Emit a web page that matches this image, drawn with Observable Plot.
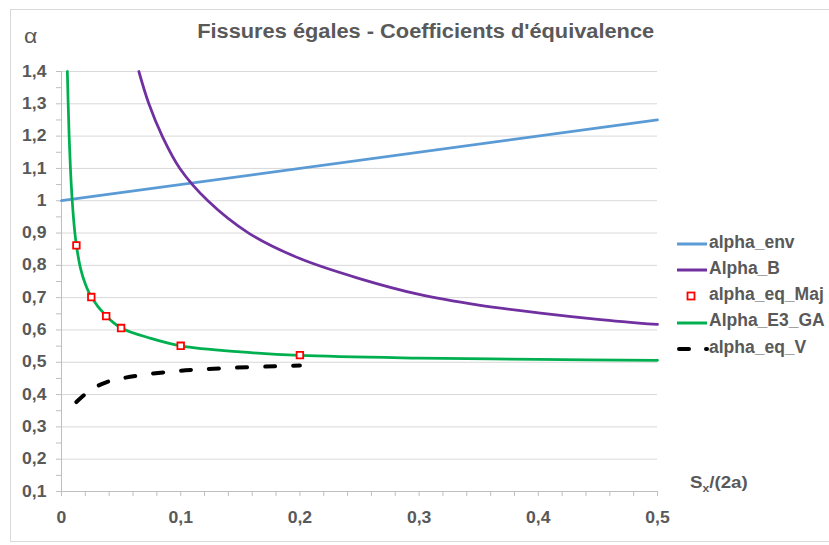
<!DOCTYPE html>
<html><head><meta charset="utf-8">
<script src="https://cdn.jsdelivr.net/npm/d3@7"></script>
<script src="https://cdn.jsdelivr.net/npm/@observablehq/plot@0.6"></script>
<style>
html,body{margin:0;padding:0;background:#fff;}
#wrap{position:relative;width:829px;height:545px;overflow:hidden;font-family:"Liberation Sans",Arial,sans-serif;background:#fff;}
#border{position:absolute;left:10px;top:9px;width:840px;height:533px;border:1px solid #d9d9d9;box-sizing:border-box;}
.t{position:absolute;white-space:nowrap;color:#595959;line-height:1;}
</style></head><body>
<div id="wrap"><div id="border"></div></div>
<script>
// ---- data ----
const seriesNames = ["alpha_env", "Alpha_B", "alpha_eq_Maj", "Alpha_E3_GA", "alpha_eq_V"];
const seriesColors = ["#5B9BD5", "#7030A0", "#FF0000", "#00B050", "#000000"];

const envX = [0, 0.5];
const envY = [1.0, 1.25];

const bX = [0.0649, 0.0733, 0.0845, 0.0993, 0.1228, 0.157, 0.2, 0.25, 0.3, 0.35, 0.4, 0.45, 0.5];
const bY = [1.40, 1.30, 1.20, 1.10, 1.00, 0.90, 0.821, 0.759, 0.710, 0.677, 0.653, 0.633, 0.617];

const majX = [0.0125, 0.025, 0.0375, 0.05, 0.1, 0.2];
const majY = [0.862, 0.702, 0.643, 0.606, 0.551, 0.522];

const gaX = [0.0049, 0.0056, 0.0064, 0.0075, 0.009, 0.0107, 0.0125, 0.016, 0.02, 0.025, 0.0375, 0.05, 0.075, 0.1, 0.15, 0.2, 0.3, 0.4, 0.5];
const gaY = [1.40, 1.30, 1.20, 1.10, 1.00, 0.92, 0.862, 0.79, 0.742, 0.702, 0.643, 0.606, 0.574, 0.551, 0.532, 0.521, 0.513, 0.509, 0.506];

const vX = [0.0125, 0.025, 0.0375, 0.05, 0.1, 0.2];
const vY = [0.377, 0.416, 0.438, 0.450, 0.474, 0.490];

const xTicks = [0, 0.1, 0.2, 0.3, 0.4, 0.5];
const xTickLabels = ["0", "0,1", "0,2", "0,3", "0,4", "0,5"];
const xMinorTicks = [0, 0.02, 0.04, 0.06, 0.08, 0.1, 0.12, 0.14, 0.16, 0.18, 0.2, 0.22, 0.24, 0.26, 0.28, 0.3, 0.32, 0.34, 0.36, 0.38, 0.4, 0.42, 0.44, 0.46, 0.48, 0.5];
const yTicks = [0.1, 0.2, 0.3, 0.4, 0.5, 0.6, 0.7, 0.8, 0.9, 1.0, 1.1, 1.2, 1.3, 1.4];
const yTickLabels = ["0,1", "0,2", "0,3", "0,4", "0,5", "0,6", "0,7", "0,8", "0,9", "1", "1,1", "1,2", "1,3", "1,4"];
const yMinorTicks = [0.1, 0.15, 0.2, 0.25, 0.3, 0.35, 0.4, 0.45, 0.5, 0.55, 0.6, 0.65, 0.7, 0.75, 0.8, 0.85, 0.9, 0.95, 1.0, 1.05, 1.1, 1.15, 1.2, 1.25, 1.3, 1.35, 1.4];

const titleText = "Fissures égales - Coefficients d'équivalence";
const yAxisTitle = "α";

// ---- build tables ----
const zipXY = (xs, ys) => xs.map((x, i) => ({x, y: ys[i]}));
const envData = zipXY(envX, envY);
const bData = zipXY(bX, bY);
const majData = zipXY(majX, majY);
const gaData = zipXY(gaX, gaY);
const vData = zipXY(vX, vY);

const labelOf = (ticks, labels) => d => {
  const i = ticks.findIndex(t => Math.abs(t - d) < 1e-9);
  return i >= 0 ? labels[i] : "";
};

const axisGray = "#bfbfbf";
const textGray = "#595959";

const plot = Plot.plot({
  width: 829, height: 545,
  marginLeft: 61, marginRight: 172, marginTop: 71, marginBottom: 54,
  x: {domain: [0, 0.5]},
  y: {domain: [0.1, 1.4]},
  style: {fontFamily: "'Liberation Sans', Arial, sans-serif", fontSize: "16px", fontWeight: "bold", background: "transparent", color: textGray},
  marks: [
    Plot.gridY(yTicks.filter(t => t > 0.1), {stroke: "#d9d9d9", strokeOpacity: 1, strokeWidth: 1}),
    Plot.axisY(yMinorTicks, {tickSize: 5, tickPadding: 10, tickFormat: labelOf(yTicks, yTickLabels), stroke: axisGray, strokeOpacity: 1, fill: textGray, label: null, fontSize: 16}),
    Plot.axisX(xMinorTicks, {tickSize: 5, tickPadding: 15, tickFormat: labelOf(xTicks, xTickLabels), stroke: axisGray, strokeOpacity: 1, fill: textGray, label: null, fontSize: 16}),
    Plot.ruleX([0], {stroke: axisGray, strokeWidth: 1}),
    Plot.ruleY([0.1], {stroke: axisGray, strokeWidth: 1}),
    Plot.line(envData, {x: "x", y: "y", stroke: seriesColors[0], strokeWidth: 2.75}),
    Plot.line(bData, {x: "x", y: "y", stroke: seriesColors[1], strokeWidth: 2.75, curve: "catmull-rom"}),
    Plot.line(gaData, {x: "x", y: "y", stroke: seriesColors[3], strokeWidth: 2.75, curve: "catmull-rom"}),
    Plot.line(vData, {x: "x", y: "y", stroke: seriesColors[4], strokeWidth: 4, curve: "catmull-rom", strokeDasharray: "10,18", strokeLinecap: "round"}),
    Plot.dot(majData, {x: "x", y: "y", symbol: "square", r: 3.7, stroke: seriesColors[2], strokeWidth: 1.8, fill: "#fff"})
  ]
});
plot.style.position = "absolute";
plot.style.left = "0px";
plot.style.top = "0px";
const wrap = document.getElementById("wrap");
wrap.appendChild(plot);

// horizontal stretch of tick labels (reference text is slightly wide)
function stretch(el, s) {
  const xa = el.getAttribute("x");
  const t = el.getAttribute("transform") || "";
  if (xa && !isNaN(+xa) && +xa !== 0) {
    el.setAttribute("x", 0);
    el.setAttribute("transform", `${t} translate(${xa},0) scale(${s},1)`);
  } else {
    el.setAttribute("transform", `${t} scale(${s},1)`);
  }
}
plot.querySelectorAll('g[aria-label="y-axis tick label"] text, g[aria-label="x-axis tick label"] text').forEach(el => stretch(el, 1.1));

// ---- HTML text: title, axis titles, legend ----
function addText(txt, left, top, size, weight, sx, origin) {
  const s = document.createElement("span");
  s.className = "t";
  s.textContent = txt;
  s.style.left = left + "px";
  s.style.top = top + "px";
  s.style.fontSize = size + "px";
  s.style.fontWeight = weight;
  s.style.transformOrigin = origin || "left center";
  s.style.transform = `scaleX(${sx})`;
  wrap.appendChild(s);
  return s;
}
const title = addText(titleText, 0, 21.4, 20, "bold", 1, "center center");
const tw = title.getBoundingClientRect().width;
title.style.left = (425.5 - tw / 2) + "px";
title.style.transform = `scaleX(${457 / tw})`;

addText(yAxisTitle, 24, 24.5, 21, "normal", 1.1);

const xl = document.createElement("span");
xl.className = "t";
xl.style.left = "690px"; xl.style.top = "474px"; xl.style.fontSize = "17px"; xl.style.fontWeight = "bold";
xl.style.transformOrigin = "left center"; xl.style.transform = "scaleX(1.1)";
xl.innerHTML = 'S<sub style="font-size:11px;vertical-align:-4px;">x</sub>/(2a)';
wrap.appendChild(xl);

// legend
seriesNames.forEach((name, i) => {
  const cy = 244 + i * 26.2;
  const sw = document.createElementNS("http://www.w3.org/2000/svg", "svg");
  sw.setAttribute("width", 40); sw.setAttribute("height", 14);
  sw.style.position = "absolute"; sw.style.left = "672px"; sw.style.top = (cy - 7) + "px";
  if (name === "alpha_eq_Maj") {
    sw.innerHTML = `<rect x="15.5" y="3.5" width="7" height="7" fill="#fff" stroke="${seriesColors[i]}" stroke-width="1.8"/>`;
  } else if (name === "alpha_eq_V") {
    sw.innerHTML = `<line x1="7" y1="7" x2="35" y2="7" stroke="${seriesColors[i]}" stroke-width="4" stroke-dasharray="10,17" stroke-linecap="round"/>`;
  } else {
    sw.innerHTML = `<line x1="5" y1="7" x2="35" y2="7" stroke="${seriesColors[i]}" stroke-width="3"/>`;
  }
  wrap.appendChild(sw);
  addText(name, 709, cy + 4.5 - 14.8, 17.5, "bold", 1);
});
</script>
</body></html>
